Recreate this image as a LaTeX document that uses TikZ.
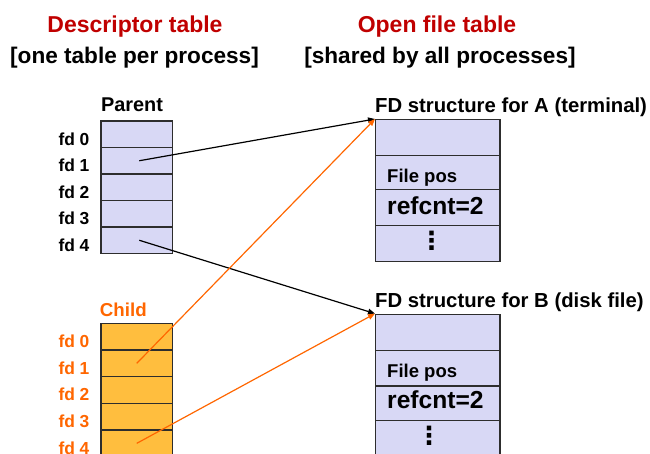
\documentclass[tikz,border=0pt]{standalone}
\usepackage{fontspec}
\setmainfont{Liberation Sans}
\newfontfamily\symfont{DejaVu Sans}
\usetikzlibrary{arrows.meta}
\definecolor{hdred}{RGB}{192,0,0}
\definecolor{ora}{RGB}{255,102,0}
\definecolor{lav}{RGB}{216,216,245}
\definecolor{gold}{RGB}{255,190,62}
\definecolor{edge}{RGB}{45,45,45}
\newcommand{\fs}[1]{\fontsize{#1}{#1}\selectfont\bfseries}
\tikzset{
  cell/.style={draw=edge, line width=1.4pt, rectangle, inner sep=0pt},
  prow/.style={cell, fill=lav, minimum width=71.5pt, minimum height=26.5pt},
  crow/.style={cell, fill=gold, minimum width=71.5pt, minimum height=26.67pt},
  frow/.style={cell, fill=lav, minimum width=124.3pt},
  lbl/.style={inner sep=0pt, anchor=base west, font=\fs{17.4}},
  hdr/.style={inner sep=0pt, anchor=base, text=hdred, font=\fs{23}},
  sub/.style={inner sep=0pt, anchor=base, font=\fs{22.6}},
  dotsym/.style={inner sep=0pt, font={\symfont\fontsize{25}{25}\selectfont\bfseries}},
  ptr/.style={line width=1.2pt, -{Triangle[length=7pt,width=5.5pt]}},
}
\begin{document}
\begin{tikzpicture}[x=1pt,y=-1pt]
\useasboundingbox (0,0) rectangle (650,453);
\clip (0,0) rectangle (650,453);
% headers
\node[hdr] (h1) at (135,32.3) {Descriptor table};
\node[hdr] (h2) at (437,32.3) {Open file table};
\node[sub] (s1) at (134.5,63) {[one table per process]};
\node[sub] (s2) at (440,63) {[shared by all processes]};
% parent table
\node[inner sep=0pt, anchor=base, font=\fs{19.9}] (pt) at (132,111.7) {Parent};
\foreach \i/\y in {0/134.25,1/160.75,2/187.25,3/213.75,4/240.25}
  \node[prow] (p\i) at (136.75,\y) {};
\foreach \i/\y in {0/145,1/171.5,2/198,3/224.5,4/251}
  \node[lbl] (pl\i) at (58.3,\y) {fd \i};
% child table
\node[inner sep=0pt, anchor=base, text=ora, font=\fs{18.7}] (ct) at (123.3,316) {Child};
\foreach \i/\y in {0/336.67,1/363.33,2/390,3/416.67,4/443.33}
  \node[crow] (c\i) at (136.75,\y) {};
\foreach \i/\y in {0/347.3,1/374,2/400.7,3/427.3,4/454}
  \node[lbl, text=ora] (cl\i) at (58.3,\y) {fd \i};
% FD structure A
\node[inner sep=0pt, anchor=base west, font=\fs{20.3}] (ta) at (375,112.7) {FD structure for A (terminal)};
\node[frow, minimum height=35.6pt] (a0) at (437.85,137.5) {};
\node[frow, minimum height=34pt] (a1) at (437.85,172.3) {};
\node[frow, minimum height=36.4pt] (a2) at (437.85,207.5) {};
\node[frow, minimum height=36pt] (a3) at (437.85,243.7) {};
\node[inner sep=0pt, anchor=base west, font=\fs{18.5}] (fa) at (387,182.7) {File pos};
\node[inner sep=0pt, anchor=base west, font=\fs{24.6}] (ra) at (387,214) {refcnt=2};
\node[dotsym] (da) at (431.7,240.7) {⋮};
% FD structure B
\node[inner sep=0pt, anchor=base west, font=\fs{20.3}] (tb) at (375,307.3) {FD structure for B (disk file)};
\node[frow, minimum height=36pt] (b0) at (437.85,332.3) {};
\node[frow, minimum height=35.7pt] (b1) at (437.85,368.15) {};
\node[frow, minimum height=34.7pt] (b2) at (437.85,403.35) {};
\node[frow, minimum height=36pt] (b3) at (437.85,438.7) {};
\node[inner sep=0pt, anchor=base west, font=\fs{18.5}] (fb) at (387,377.7) {File pos};
\node[inner sep=0pt, anchor=base west, font=\fs{24.6}] (rb) at (387,408.3) {refcnt=2};
\node[dotsym] (db) at (429,436) {⋮};
% pointers
\draw[ptr, black] ([xshift=2.5pt]p1.center) -- (a0.north west);
\draw[ptr, black] ([xshift=2.5pt]p4.center) -- (b0.north west);
\draw[ptr, ora] (c1.center) -- (a0.north west);
\draw[ptr, ora] (c4.center) -- (b0.north west);
\end{tikzpicture}
\end{document}
